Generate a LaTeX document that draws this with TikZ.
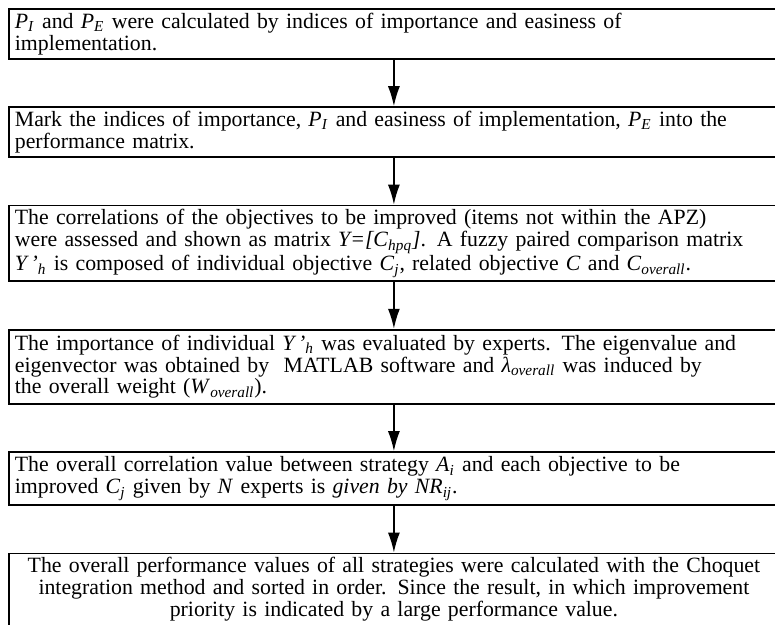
\documentclass[tikz,border=0pt]{standalone}
\usepackage{fontspec}
\setmainfont{Liberation Serif}
\usetikzlibrary{arrows.meta,positioning}

\newcommand{\isub}[2]{\textit{#1}\textsubscript{\textit{#2}}}

\begin{document}
\begin{tikzpicture}[->,>={Latex[length=10pt,width=6pt]},
    stepbox/.style={draw,line width=0.9pt,text width=379pt,inner xsep=3pt,
      inner ysep=2pt,align=left,minimum height=24.6pt,
      font=\fontsize{10.9pt}{9.7pt}\selectfont},
    tallbox/.style={stepbox,minimum height=37pt},
    node distance=23.3pt]
  \useasboundingbox (0,0) rectangle (387.5pt,-312.5pt);
  \clip (0,0) rectangle (387.5pt,-312.5pt);
      \node[stepbox,anchor=north west] (calc) at (4pt,-4pt)
        {\isub{P}{I} and \isub{P}{E} were calculated by indices of importance and easiness of\\
         implementation.};
      \node[stepbox,below=of calc] (mark)
        {Mark the indices of importance, \isub{P}{I} and easiness of implementation, \isub{P}{E} into the\\
         performance matrix.};
      \node[tallbox,below=of mark] (corr)
        {The correlations of the objectives to be improved (items not within the APZ)\\
         were assessed and shown as matrix \textit{Y=[C}\textsubscript{\textit{hpq}}\textit{]}. A fuzzy paired comparison matrix\\
         \isub{Y\,'}{h} is composed of individual objective \isub{C}{j}, related objective \textit{C} and \isub{C}{overall}.};
      \node[tallbox,below=of corr] (weight)
        {The importance of individual \isub{Y\,'}{h} was evaluated by experts. The eigenvalue and\\
         eigenvector was obtained by \ MATLAB software and \isub{λ}{overall} was induced by\\
         the overall weight (\isub{W}{overall}).};
      \node[stepbox,minimum height=26.5pt,below=of weight] (relval)
        {The overall correlation value between strategy \isub{A}{i} and each objective to be\\
         improved \isub{C}{j} given by \textit{N} experts is \textit{given by} \isub{NR}{ij}.};
      \node[tallbox,minimum height=36pt,align=center,below=of relval] (rank)
        {The overall performance values of all strategies were calculated with the Choquet\\
         integration method and sorted in order. Since the result, in which improvement\\
         priority is indicated by a large performance value.};
      \draw[line width=0.75pt] (calc) -- (mark);
      \draw[line width=0.75pt] (mark) -- (corr);
      \draw[line width=0.75pt] (corr) -- (weight);
      \draw[line width=0.75pt] (weight) -- (relval);
      \draw[line width=0.75pt] (relval) -- (rank);
    \end{tikzpicture}
\end{document}
